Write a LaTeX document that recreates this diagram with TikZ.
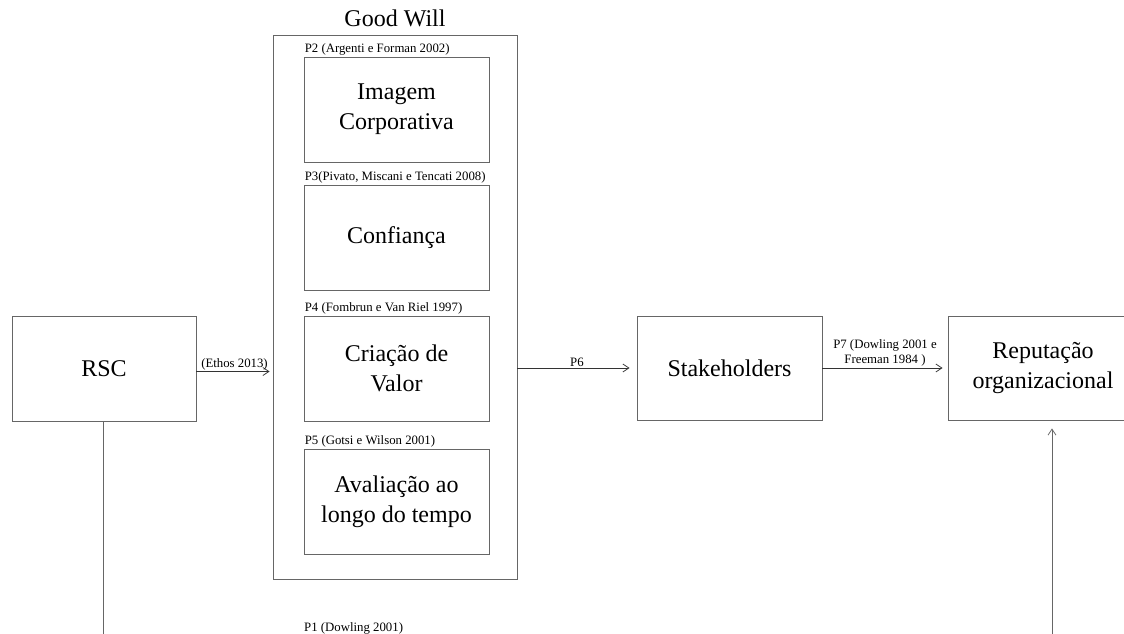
\documentclass[tikz,border=0pt]{standalone}
\usepackage{fontspec}
\setmainfont{Liberation Serif}
\usetikzlibrary{arrows.meta}
\begin{document}
\begin{tikzpicture}[x=1pt, y=-1pt,
    box/.style={draw=black!60, line width=0.8pt, align=center, inner sep=0pt,
        font=\fontsize{24}{30}\selectfont},
    big/.style={font=\fontsize{24}{30}\selectfont},
    ref/.style={inner sep=1pt, align=center, font=\fontsize{12.8}{15}\selectfont},
    seta/.style={-{Straight Barb[length=6pt,width=8pt]}, line width=0.8pt, draw=black!80}]
    \useasboundingbox (0, 0) rectangle (1124, 634);
    \clip (0, 0) rectangle (1124, 634);

    \node[box, minimum width=244, minimum height=544] (goodwill) at (395, 307) {};
    \node[big] (gwtitle) at (395, 18) {Good Will};

    \node[box, minimum width=185, minimum height=105] (imagem) at (396.5, 109.5) {Imagem\\Corporativa};
    \node[ref, anchor=south west] (p2) at (imagem.north west) {P2 (Argenti e Forman 2002)};

    \node[box, minimum width=185, minimum height=105] (confianca) at (396.5, 237.5) {Confiança};
    \node[ref, anchor=south west] (p3) at (confianca.north west) {P3(Pivato, Miscani e Tencati 2008)};

    \node[box, minimum width=185, minimum height=105] (valor) at (396.5, 368.5) {Criação de\\Valor};
    \node[ref, anchor=south west] (p4) at (valor.north west) {P4 (Fombrun e Van Riel 1997)};

    \node[box, minimum width=185, minimum height=105] (avaliacao) at (396.5, 501.5) {Avaliação ao\\longo do tempo};
    \node[ref, anchor=south west] (p5) at (avaliacao.north west) {P5 (Gotsi e Wilson 2001)};

    \node[box, minimum width=184, minimum height=105] (rsc) at (104, 368.5) {RSC};
    \node[box, minimum width=185, minimum height=104] (stake) at (729.5, 368) {Stakeholders};
    \node[box, minimum width=190, minimum height=104] (repu) at (1043, 368) {Reputação\\organizacional};

    \draw[seta, shorten >=3] ([yshift=-3]rsc.east) -- ([yshift=-3]rsc.east -| goodwill.west)
        node[ref, midway, above] {(Ethos 2013)};
    \draw[seta, shorten >=7] (stake.west -| goodwill.east) -- (stake.west)
        node[ref, midway, above] {P6};
    \draw[seta, shorten >=5] (stake.east) -- (repu.west)
        node[ref, midway, above] {P7 (Dowling 2001 e\\Freeman 1984 )};

    \coordinate (p1a) at (103, 660);
    \coordinate (p1b) at (1052, 660);
    \draw[seta, draw=black!60, shorten >=8] (rsc.south -| p1a) -- (p1a) -- (p1b) -- (p1b |- repu.south);
    \node[ref, anchor=west] (p1) at (303, 628) {P1 (Dowling 2001)};
\end{tikzpicture}
\end{document}
